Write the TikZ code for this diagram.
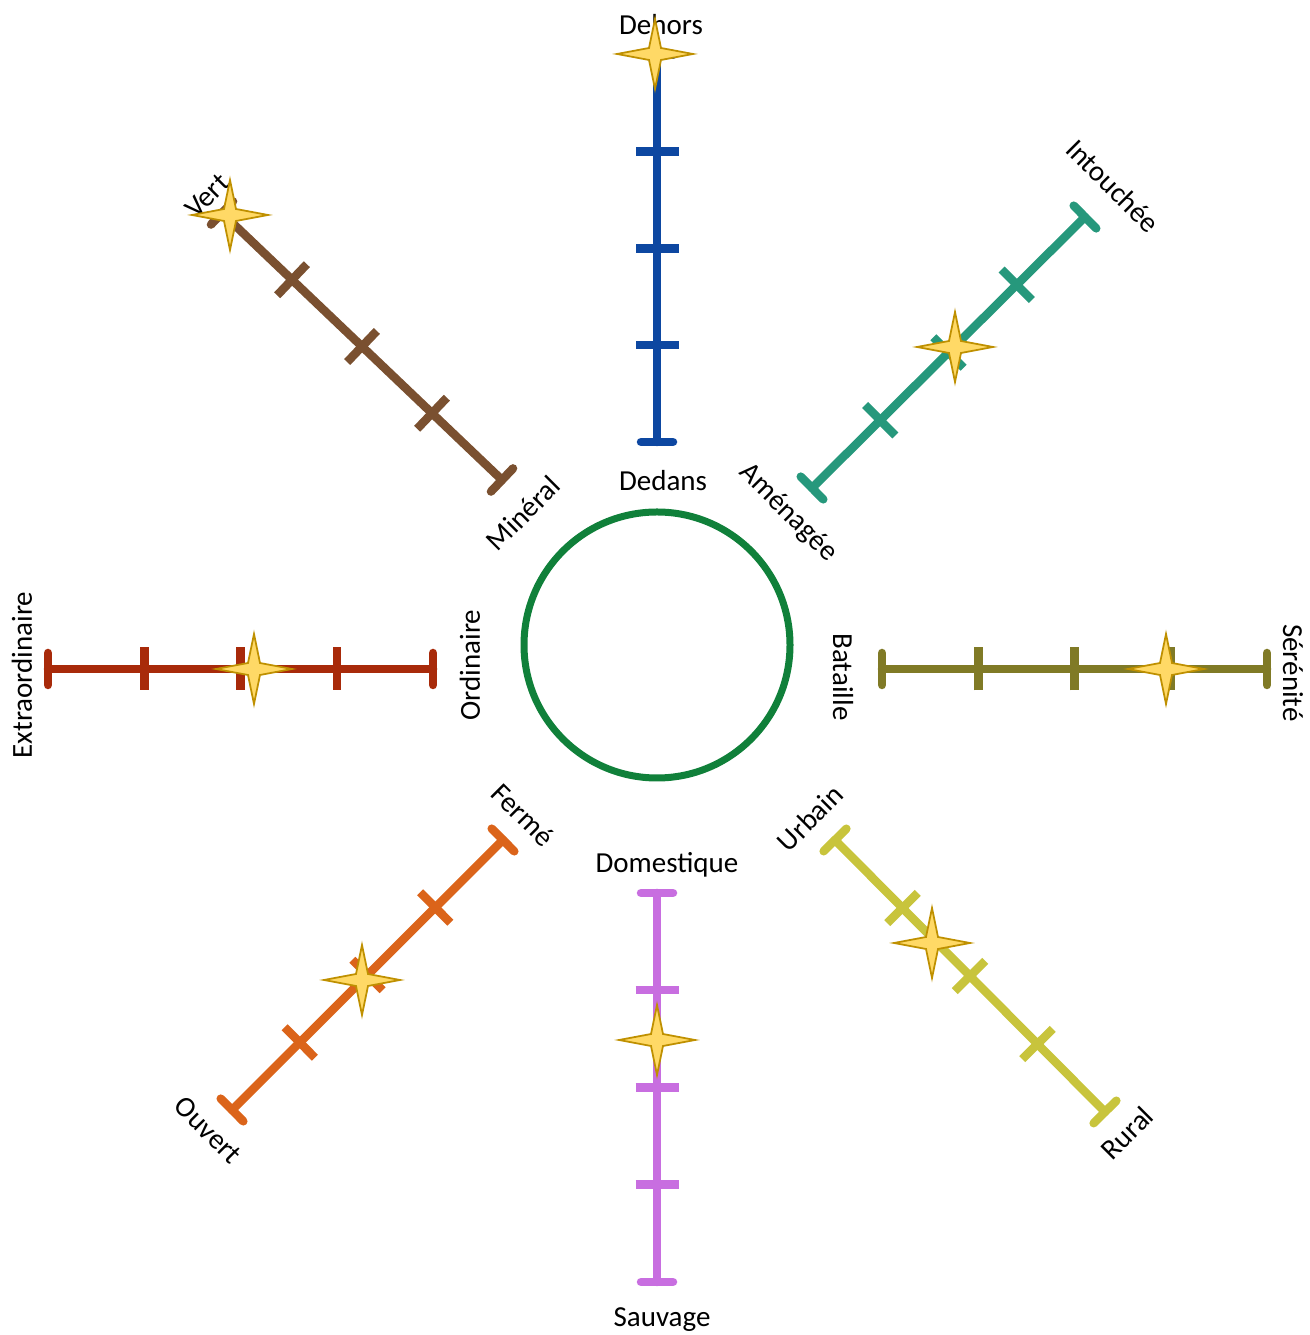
\documentclass[tikz,border=0pt]{standalone}
\usepackage{fontspec}
\setmainfont{Carlito}
\usetikzlibrary{decorations.markings}

\definecolor{bleu}{RGB}{13,71,161}
\definecolor{vertrond}{RGB}{16,128,58}
\definecolor{turquoise}{RGB}{38,152,124}
\definecolor{brun}{RGB}{122,80,48}
\definecolor{rouge}{RGB}{168,42,10}
\definecolor{olive}{RGB}{128,122,38}
\definecolor{orange}{RGB}{219,100,26}
\definecolor{violet}{RGB}{200,110,224}
\definecolor{jaune}{RGB}{200,196,60}
\definecolor{etoilefond}{RGB}{255,217,102}
\definecolor{etoilebord}{RGB}{191,144,0}

\tikzset{
  graduation/.style={line width=0.17cm, line cap=butt, draw=#1},
  butee/.style={line width=0.17cm, line cap=round, draw=#1},
  echelle/.style={butee=#1, postaction={decorate},
    decoration={markings,
      mark=at position 0 with {\draw[butee=#1] (0,-0.32cm) -- (0,0.32cm);},
      mark=at position 0.25 with {\draw[graduation=#1] (0,-0.43cm) -- (0,0.43cm);},
      mark=at position 0.5 with {\draw[graduation=#1] (0,-0.43cm) -- (0,0.43cm);},
      mark=at position 0.75 with {\draw[graduation=#1] (0,-0.43cm) -- (0,0.43cm);},
      mark=at position 1 with {\draw[butee=#1] (0,-0.32cm) -- (0,0.32cm);}}},
  etiquette/.style={font=\fontsize{16.5}{20}\selectfont, inner sep=0pt},
  etoile/.pic={
    \draw[line width=1pt, draw=etoilebord, fill=etoilefond]
      (38,0) -- (6,6) -- (0,35) -- (-6,6) -- (-38,0) -- (-6,-6) -- (0,-35) -- (6,-6) -- cycle;
  }
}

\begin{document}
\begin{tikzpicture}[x=0.02cm, y=0.02cm]
\useasboundingbox (0,0) rectangle (1310,1335);

% labels
\node[etiquette] (dehors) at (661,1310) {Dehors};
\node[etiquette] (dedans) at (663,854) {Dedans};
\node[etiquette] (domestique) at (667,470) {Domestique};
\node[etiquette] (sauvage) at (662,15) {Sauvage};
\node[etiquette, rotate=90] (extra) at (22,660) {Extraordinaire};
\node[etiquette, rotate=90] (ordinaire) at (470,670) {Ordinaire};
\node[etiquette, rotate=-90] (bataille) at (843,658) {Bataille};
\node[etiquette, rotate=-90] (serenite) at (1293,662) {Sérénité};
\node[etiquette, rotate=45] (vert) at (207,1139) {Vert};
\node[etiquette, rotate=45] (mineral) at (523,822) {Minéral};
\node[etiquette, rotate=-45] (intouchee) at (1113,1149) {Intouchée};
\node[etiquette, rotate=-45] (amenagee) at (788,822) {Aménagée};
\node[etiquette, rotate=-45] (ferme) at (523,520) {Fermé};
\node[etiquette, rotate=-45] (ouvert) at (208,205) {Ouvert};
\node[etiquette, rotate=45] (urbain) at (810,517) {Urbain};
\node[etiquette, rotate=45] (rural) at (1127,202) {Rural};

% centre
\draw[vertrond, line width=0.14cm] (657,690) circle (133);

% ends of the scales
\coordinate (bleuA) at (657,893);
\coordinate (bleuB) at (657,1280);
\coordinate (brunA) at (502,855);
\coordinate (brunB) at (222,1122);
\coordinate (turqA) at (812,847);
\coordinate (turqB) at (1085,1118);
\coordinate (rougeA) at (433,666);
\coordinate (rougeB) at (48,666);
\coordinate (oliveA) at (882,666);
\coordinate (oliveB) at (1267,666);
\coordinate (orangeA) at (503,495);
\coordinate (orangeB) at (232,225);
\coordinate (violetA) at (657,442);
\coordinate (violetB) at (657,53);
\coordinate (jauneA) at (835,495);
\coordinate (jauneB) at (1105,223);

\draw[echelle=bleu] (bleuA) -- (bleuB);
\draw[echelle=brun] (brunA) -- (brunB);
\draw[echelle=turquoise] (turqA) -- (turqB);
\draw[echelle=rouge] (rougeA) -- (rougeB);
\draw[echelle=olive] (oliveA) -- (oliveB);
\draw[echelle=orange] (orangeA) -- (orangeB);
\draw[echelle=violet] (violetA) -- (violetB);
\draw[echelle=jaune] (jauneA) -- (jauneB);

% stars
\pic at (655,1281) {etoile};
\pic at (230,1120) {etoile};
\pic at (955,988) {etoile};
\pic at (254,666) {etoile};
\pic at (1166,666) {etoile};
\pic at (362,355) {etoile};
\pic at (657,295) {etoile};
\pic at (932,392) {etoile};
\end{tikzpicture}
\end{document}
